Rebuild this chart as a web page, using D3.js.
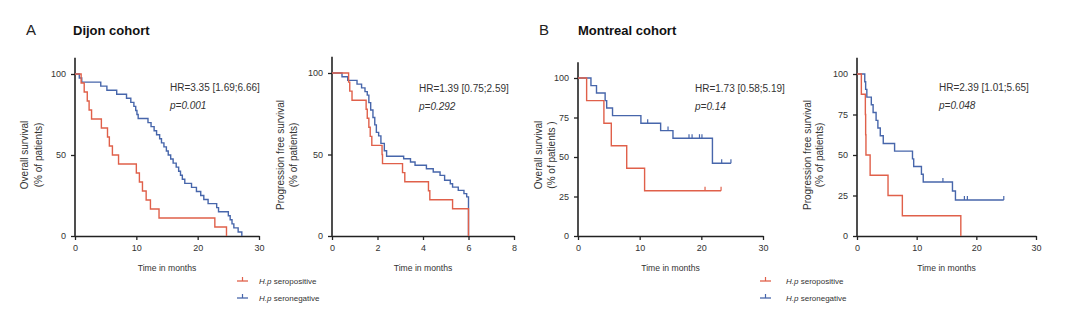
<!DOCTYPE html>
<html>
<head>
<meta charset="utf-8">
<script src="https://cdn.jsdelivr.net/npm/d3@7"></script>
<style>
  body { margin: 0; background: #fff; }
  svg { display: block; font-family: "Liberation Sans", Arial, sans-serif; }
</style>
</head>
<body>
<svg id="chart" width="1080" height="323"></svg>
<script>
// Kaplan-Meier steps, [month, % of patients]
var dijonOsPos = [[0,100],[1.0,94.4],[1.5,88.9],[2.0,83.3],[2.3,77.8],[2.7,72.2],[4.3,66.7],[5.3,61.1],[5.6,55.6],[6.1,50.0],[7.1,44.4],[10.0,38.9],[10.5,33.3],[11.0,27.8],[11.6,22.2],[12.3,16.7],[13.7,11.1],[22.8,5.6],[24.7,0]];
var dijonOsNeg = [[0,100],[0.7,97.5],[1.1,95],[4.2,92.5],[5.2,90],[6.8,87.5],[8.4,85],[9.1,82.5],[9.6,80],[9.9,77.5],[10.1,75],[10.3,72.5],[11.9,70],[12.4,67.5],[12.9,65],[13.3,62.5],[13.8,60],[14.1,57.5],[14.5,55],[14.9,52.5],[15.2,50],[15.6,47.5],[16.0,45],[16.5,42.5],[16.9,40],[17.2,37.5],[17.5,35],[17.9,32.5],[19.0,30],[19.8,27.5],[20.5,25],[21.0,22.5],[21.7,20],[23.1,17.5],[23.4,15],[25.0,12.5],[25.3,10],[25.6,7.5],[25.9,5],[26.6,2.5],[27.2,0]];
var dijonPfsPos = [[0,100],[0.73,94.4],[0.78,88.9],[0.88,83.3],[1.5,77.8],[1.55,72.2],[1.62,66.7],[1.68,61.1],[1.75,55.6],[2.2,50],[2.22,44.4],[3.1,38.9],[3.2,33.3],[4.24,27.8],[4.3,22.2],[5.3,16.7],[6.0,0]];
var dijonPfsNeg = [[0,100],[0.44,97.7],[0.69,95.5],[1.1,93.2],[1.3,90.9],[1.45,88.6],[1.55,86.4],[1.62,81.8],[1.7,77.3],[1.8,72.7],[1.88,68.2],[1.95,63.6],[2.05,61.4],[2.15,56.8],[2.3,52.3],[2.4,48.9],[3.15,47.4],[3.45,45.4],[3.65,43.4],[4.15,41.3],[4.45,39.3],[4.75,37.2],[4.95,34.2],[5.2,32.1],[5.3,30],[5.55,28],[5.8,26],[5.92,24],[6.0,0]];
var montrealOsPos = [[0,100],[1.4,85.7],[4.2,71.4],[5.4,57.1],[7.9,42.9],[10.8,28.6],[23.2,28.6]];
var montrealOsNeg = [[0,100],[2.1,95.2],[3.0,90.5],[4.4,85.7],[4.65,81.0],[5.6,76.2],[10.2,71.4],[13.4,66.7],[15.4,61.9],[21.8,46.0],[24.8,46.0]];
var montrealPfsPos = [[0,100],[0.73,87.5],[1.4,75],[1.45,62.5],[1.5,50],[2.2,37.5],[5.2,25],[7.6,12.5],[17.4,0]];
var montrealPfsNeg = [[0,100],[1.3,95.2],[1.45,90.5],[1.65,85.7],[2.4,81.0],[2.7,76.2],[3.2,71.4],[3.5,66.7],[3.9,61.9],[4.4,57.1],[6.3,52.4],[9.3,47.6],[9.5,42.9],[10.8,38.1],[11.1,33.3],[16.0,27.8],[16.5,22.2],[24.6,22.2]];

// censored patients (month)
var montrealOsPosCens = [20.6, 23.2];
var montrealOsNegCens = [11.3, 14.6, 18.0, 18.5, 19.7, 20.1, 23.3, 24.8];
var montrealPfsNegCens = [14.4, 18.0, 18.5, 24.6];

var xTicks30 = [0, 10, 20, 30];
var xTicks8 = [0, 2, 4, 6, 8];
var yTicksDijon = [0, 50, 100];
var yTicksMontreal = [0, 25, 50, 75, 100];

var hrLabels = ["HR=3.35 [1.69;6.66]", "HR=1.39 [0.75;2.59]", "HR=1.73 [0.58;5.19]", "HR=2.39 [1.01;5.65]"];
var pLabels = ["p=0.001", "p=0.292", "p=0.14", "p=0.048"];
var legendLabels = ["seropositive", "seronegative"];

var RED = "#e0604a",
    BLUE = "#4766ab",
    AXIS = "#222";

var svg = d3.select("#chart");

var panels = [
    { x0: 75, x1: 259, y0: 236, y100: 74, xMax: 30, xTicks: xTicks30, yTicks: yTicksDijon,
      title: ["Overall survival", "(% of patients)"], tX: [24, 38],
      hr: hrLabels[0], p: pLabels[0], hrX: 170, hrY: 91,
      pos: dijonOsPos, neg: dijonOsNeg, posCens: [], negCens: [] },
    { x0: 332, x1: 514, y0: 236, y100: 73, xMax: 8, xTicks: xTicks8, yTicks: yTicksDijon,
      title: ["Progression free survival", "(% of patients)"], tX: [280, 293],
      hr: hrLabels[1], p: pLabels[1], hrX: 419, hrY: 92,
      pos: dijonPfsPos, neg: dijonPfsNeg, posCens: [], negCens: [] },
    { x0: 578, x1: 763, y0: 236, y100: 78, xMax: 30, xTicks: xTicks30, yTicks: yTicksMontreal,
      title: ["Overall survival", "(% of patients )"], tX: [538, 551],
      hr: hrLabels[2], p: pLabels[2], hrX: 695, hrY: 92,
      pos: montrealOsPos, neg: montrealOsNeg, posCens: montrealOsPosCens, negCens: montrealOsNegCens },
    { x0: 857, x1: 1036, y0: 236, y100: 74, xMax: 30, xTicks: xTicks30, yTicks: yTicksMontreal,
      title: ["Progression free survival", "(% of patients)"], tX: [807, 819],
      hr: hrLabels[3], p: pLabels[3], hrX: 939, hrY: 91,
      pos: montrealPfsPos, neg: montrealPfsNeg, posCens: [], negCens: montrealPfsNegCens }
];

// survival value at time t on a step curve
function survAt(curve, t) {
    var s = curve[0][1];
    for (var i = 0; i < curve.length; i++) {
        if (curve[i][0] <= t) s = curve[i][1];
    }
    return s;
}

function drawPanel(p) {
    var g = svg.append("g");

    var x = d3.scaleLinear().domain([0, p.xMax]).range([p.x0, p.x1]);
    var y = d3.scaleLinear().domain([0, 100]).range([p.y0, p.y100]);

    var xAxis = d3.axisBottom(x).tickValues(p.xTicks).tickSize(4).tickSizeOuter(0).tickPadding(5);
    var gx = g.append("g").attr("transform", "translate(0," + p.y0 + ")").call(xAxis);

    var yAxis = d3.axisLeft(y).tickValues(p.yTicks).tickSize(4).tickSizeOuter(0).tickPadding(5);
    var gy = g.append("g").attr("transform", "translate(" + p.x0 + ",0)").call(yAxis);
    gy.select(".domain").remove();
    gy.append("line")
      .attr("x1", 0).attr("x2", 0)
      .attr("y1", y(0)).attr("y2", y(110))
      .attr("stroke", AXIS).attr("stroke-width", 1.6);

    [gx, gy].forEach(function(a) {
        a.selectAll(".domain").attr("stroke", AXIS).attr("stroke-width", 1.6);
        a.selectAll(".tick line").attr("stroke", AXIS).attr("stroke-width", 1.3);
        a.selectAll(".tick text")
         .attr("fill", "#333")
         .style("font-size", "9px")
         .style("font-family", "'Liberation Sans', Arial, sans-serif");
    });

    // axis titles
    g.append("text")
     .attr("x", (p.x0 + p.x1) / 2).attr("y", 271)
     .attr("text-anchor", "middle")
     .attr("fill", "#333")
     .style("font-size", "8.6px")
     .text("Time in months");

    p.title.forEach(function(t, i) {
        g.append("text")
         .attr("transform", "translate(" + (p.tX[i] + 3.5) + ",155) rotate(-90)")
         .attr("text-anchor", "middle")
         .attr("fill", "#333")
         .style("font-size", "10px")
         .text(t);
    });

    // stats
    g.append("text").attr("x", p.hrX).attr("y", p.hrY)
     .attr("fill", "#333").style("font-size", "10px").text(p.hr);
    g.append("text").attr("x", p.hrX).attr("y", p.hrY + 18)
     .attr("fill", "#333").style("font-size", "10px").style("font-style", "italic").text(p.p);

    var line = d3.line()
        .x(function(d) { return x(d[0]); })
        .y(function(d) { return y(d[1]); })
        .curve(d3.curveStepAfter);

    [[p.neg, p.negCens, BLUE], [p.pos, p.posCens, RED]].forEach(function(s) {
        g.append("path")
         .datum(s[0])
         .attr("d", line)
         .attr("fill", "none")
         .attr("stroke", s[2])
         .attr("stroke-width", 1.4);

        g.selectAll(null)
         .data(s[1])
         .enter().append("line")
         .attr("x1", function(d) { return x(d); })
         .attr("x2", function(d) { return x(d); })
         .attr("y1", function(d) { return y(survAt(s[0], d)); })
         .attr("y2", function(d) { return y(survAt(s[0], d)) - 4; })
         .attr("stroke", s[2])
         .attr("stroke-width", 1.2);
    });
}

panels.forEach(drawPanel);

// cohort headings
var headings = [
    { letter: "A", lx: 26, name: "Dijon cohort", nx: 73 },
    { letter: "B", lx: 539, name: "Montreal cohort", nx: 578 }
];
headings.forEach(function(h) {
    svg.append("text").attr("x", h.lx).attr("y", 35)
       .attr("fill", "#222").style("font-size", "15px").text(h.letter);
    svg.append("text").attr("x", h.nx).attr("y", 35)
       .attr("fill", "#111").style("font-size", "13px").style("font-weight", "bold").text(h.name);
});

// legends
var legends = [{ sx: 237, tx: 259 }, { sx: 760, tx: 786 }];
legends.forEach(function(l) {
    [RED, BLUE].forEach(function(c, i) {
        var yy = 281 + i * 17;
        var lg = svg.append("g");
        lg.append("line").attr("x1", l.sx).attr("x2", l.sx + 11)
          .attr("y1", yy).attr("y2", yy).attr("stroke", c).attr("stroke-width", 1.3);
        lg.append("line").attr("x1", l.sx + 5.5).attr("x2", l.sx + 5.5)
          .attr("y1", yy).attr("y2", yy - 4).attr("stroke", c).attr("stroke-width", 1.2);
        var t = lg.append("text").attr("x", l.tx).attr("y", yy + 3)
          .attr("fill", "#333").style("font-size", "8px");
        t.append("tspan").style("font-style", "italic").text("H.p");
        t.append("tspan").text(" " + legendLabels[i]);
    });
});
</script>
</body>
</html>
